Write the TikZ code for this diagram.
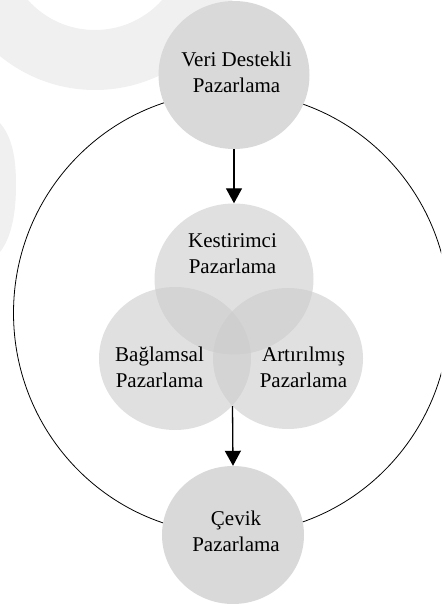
\documentclass[tikz,border=0pt]{standalone}
\usepackage{fontspec}
\setmainfont{Liberation Serif}
\usetikzlibrary{arrows.meta,shapes.geometric}
\definecolor{markgray}{gray}{0.94}
\definecolor{discgray}{gray}{0.85}
\definecolor{venngray}{gray}{0.8}
\tikzset{
  solid disc/.style={ellipse, fill=discgray, inner sep=0pt},
  venn disc/.style={ellipse, fill=venngray, fill opacity=0.6, inner sep=0pt},
  disc text/.style={align=center, font=\fontsize{21}{26}\selectfont, inner sep=0pt},
  flow/.style={line width=1.3pt, -{Triangle[width=16pt,length=15pt]}}
}
\begin{document}
\begin{tikzpicture}[x=1pt, y=-1pt]
  \useasboundingbox (0,0) rectangle (441,604);
  \clip (0,0) rectangle (441,604);
  % faint marks in the background
  \fill[markgray, even odd rule] (95,-60) circle (150) (95,-60) circle (90);
  \fill[markgray] (0,123) .. controls (13,138) and (16,160) .. (16,185)
    .. controls (16,215) and (11,238) .. (0,252) -- cycle;
  % outer ring
  \draw[line width=0.8pt] (231.5,313) ellipse (218 and 221);
  % discs
  \node[solid disc, minimum width=151pt, minimum height=148pt] (veri) at (234,75) {};
  \node[solid disc, minimum width=142pt, minimum height=138pt] (cevik) at (233,535) {};
  \node[venn disc, minimum width=159pt, minimum height=151pt] (kes) at (234,279) {};
  \node[venn disc, minimum width=152pt, minimum height=143pt] (bag) at (175,358.5) {};
  \node[venn disc, minimum width=150pt, minimum height=141pt] (art) at (288,358.5) {};
  % texts
  \node[disc text] (veritext) at (236.5,72.5) {Veri Destekli\\Pazarlama};
  \node[disc text] (kestext) at (232.5,254) {Kestirimci\\Pazarlama};
  \node[disc text] (bagtext) at (159.5,367.5) {Bağlamsal\\Pazarlama};
  \node[disc text] (arttext) at (303.5,367.5) {Artırılmış\\Pazarlama};
  \node[disc text] (cevtext) at (236,531.5) {Çevik\\Pazarlama};
  % arrows
  \coordinate (meet) at (232.5,406);
  \draw[flow] (veri.south) -- (kes.north);
  \draw[flow] (meet) -- (cevik.north);
\end{tikzpicture}
\end{document}
